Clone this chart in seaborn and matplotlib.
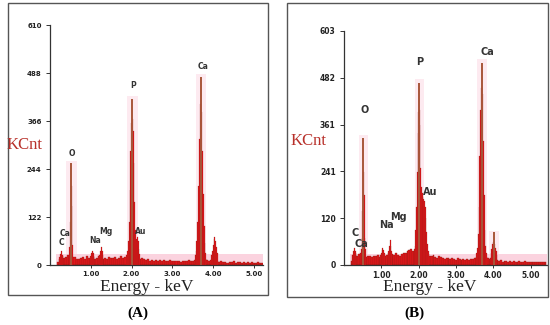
import numpy as np
import matplotlib.pyplot as plt
import seaborn as sns
from matplotlib.patches import Rectangle

# ---- panel A data -------------------------------------------------------
bg_energy_a = np.linspace(0.20, 5.20, 101)
bg_counts_a = [8, 15, 22, 18, 20, 25, 22, 18, 20, 16, 14,
               18, 20, 15, 22, 18, 16, 20, 14, 18, 22, 17, 15, 19, 16, 20, 18,
               17, 21, 15, 19, 22, 18, 20, 16, 24, 20, 22, 18, 20, 16, 18, 14,
               12, 14, 10, 13, 11, 12, 9, 13, 10, 12, 11, 9, 12, 10, 11, 9,
               10, 8, 11, 9, 10, 12, 9, 11, 13, 15, 18, 20, 16, 14, 12, 10,
               12, 14, 10, 9, 8, 9, 7, 8, 6, 8, 7, 9, 6, 7, 8, 6,
               7, 5, 8, 6, 7, 5, 6, 7, 5, 6]
peak_energy_a = [0.24, 0.26, 0.28, 0.30, 0.32,
                 0.48, 0.50, 0.52, 0.54, 0.56,
                 1.00, 1.02, 1.04, 1.06, 1.08,
                 1.22, 1.24, 1.26, 1.28, 1.30,
                 1.88, 1.90, 1.92, 1.94, 1.96, 1.98, 2.00, 2.02, 2.04, 2.06,
                 2.08, 2.10, 2.12, 2.14, 2.16, 2.18, 2.20,
                 3.56, 3.58, 3.60, 3.62, 3.64, 3.66, 3.68, 3.70, 3.72, 3.74,
                 3.76, 3.78, 3.80, 3.82,
                 3.96, 3.98, 4.00, 4.02, 4.04, 4.06, 4.08, 4.10]
peak_counts_a = [20, 28, 35, 25, 18,
                 45, 110, 200, 150, 50,
                 22, 30, 36, 30, 22,
                 25, 35, 45, 35, 25,
                 25, 35, 60, 110, 190, 290, 360, 370, 340, 260,
                 160, 90, 65, 71, 60, 40, 28,
                 25, 35, 60, 110, 200, 320, 410, 420, 390, 290,
                 180, 100, 55, 30,
                 25, 35, 50, 65, 70, 62, 45, 30]
apex_energy_a = [0.52, 2.02, 3.70]
apex_counts_a = [259, 422, 477]
labels_a = ["O", "P", "Ca", "Ca", "C", "Na", "Mg", "Au"]
label_e_a = [0.54, 2.03, 3.76, 0.37, 0.29, 1.10, 1.37, 2.22]
label_c_a = [284, 457, 505, 79, 56, 63, 86, 86]
yticks_a = [0, 122, 244, 366, 488, 610]

# ---- panel B data -------------------------------------------------------
bg_energy_b = np.linspace(0.20, 5.40, 105)
bg_counts_b = [10, 25, 30, 22, 28, 30, 25, 22, 20, 24, 22,
               20, 24, 22, 26, 20, 25, 28, 22, 26, 30, 24, 28, 25, 30, 27, 24,
               28, 32, 30, 35, 38, 40, 36, 42, 45, 40, 44, 40, 38, 32, 28, 24,
               22, 25, 20, 18, 22, 20, 18, 16, 19, 17, 15, 18, 16, 14, 17, 15,
               14, 16, 13, 15, 14, 16, 15, 18, 20, 25, 30, 28, 24, 20, 18, 15,
               18, 20, 15, 12, 10, 12, 9, 10, 11, 9, 10, 8, 10, 9, 8, 10,
               9, 8, 10, 8, 9, 7, 8, 9, 7, 8, 9, 8, 7, 8]
peak_energy_b = [0.24, 0.26, 0.28, 0.30, 0.32,
                 0.46, 0.48, 0.50, 0.52, 0.54, 0.56, 0.58,
                 1.00, 1.02, 1.04, 1.06, 1.08,
                 1.20, 1.22, 1.24, 1.26, 1.28,
                 1.88, 1.90, 1.92, 1.94, 1.96, 1.98, 2.00, 2.02, 2.04, 2.06,
                 2.08, 2.10, 2.12, 2.14, 2.16, 2.18, 2.20, 2.22, 2.24, 2.26,
                 3.56, 3.58, 3.60, 3.62, 3.64, 3.66, 3.68, 3.70, 3.72, 3.74,
                 3.76, 3.78, 3.80, 3.82,
                 3.94, 3.96, 3.98, 4.00, 4.02, 4.04, 4.06, 4.08, 4.10]
peak_counts_b = [25, 35, 44, 35, 25,
                 40, 70, 140, 240, 180, 70, 40,
                 30, 38, 45, 38, 30,
                 35, 48, 65, 50, 35,
                 35, 50, 90, 150, 240, 340, 395, 400, 360, 250,
                 200, 185, 175, 170, 165, 150, 120, 85, 55, 35,
                 30, 45, 80, 150, 280, 400, 455, 460, 440, 320,
                 180, 90, 50, 30,
                 30, 40, 55, 60, 62, 55, 45, 35, 25]
apex_energy_b = [0.52, 2.02, 3.70, 4.02]
apex_counts_b = [328, 470, 521, 85]
labels_b = ["O", "P", "Ca", "C", "Ca", "Na", "Mg", "Au"]
label_e_b = [0.56, 2.04, 3.83, 0.29, 0.46, 1.15, 1.47, 2.31]
label_c_b = [400, 524, 550, 83, 54, 103, 124, 188]
yticks_b = [0, 120, 241, 361, 482, 603]

xticks = [1.0, 2.0, 3.0, 4.0, 5.0]

RED = "#e5141b"
DARK = "#8a2012"
APEX = "#a8563a"
PINK = "#fdeaf0"
LABEL_RED = "#b8302a"

sns.set_style("white")
plt.rcParams["font.family"] = ["DejaVu Sans"]

fig = plt.figure(figsize=(5.5, 3.25), dpi=100)


def draw_panel(ax, bg_e, bg_c, pk_e, pk_c, ap_e, ap_c, labs, lab_e, lab_c,
               yt, xmax, lab_size, tick_size):
    # pink halo behind the peaks and along the baseline
    ax.bar(ap_e, [c * 1.02 for c in ap_c], width=0.26, color=PINK,
           linewidth=0, zorder=0)
    ax.fill_between([0.15, xmax], 0, 28, color="#fbd3df", linewidth=0,
                    zorder=0)

    sns.histplot(x=bg_e, weights=bg_c, binwidth=0.05,
                 binrange=(0.175, bg_e[-1] + 0.025), color=RED, alpha=1,
                 edgecolor=DARK, linewidth=0.25, ax=ax, zorder=2)
    sns.histplot(x=pk_e, weights=pk_c, binwidth=0.02,
                 binrange=(0.19, 5.25), color=RED, alpha=1,
                 edgecolor=DARK, linewidth=0.15, ax=ax, zorder=3)
    ax.vlines(ap_e, 0, ap_c, color=APEX, linewidth=1.4, zorder=4)

    for t, e, c in zip(labs, lab_e, lab_c):
        ax.text(e, c, t, ha="center", va="center", fontsize=lab_size,
                fontweight="bold", color="#333333", zorder=5)

    ax.set_xlim(0, xmax)
    ax.set_ylim(0, yt[-1])
    ax.set_yticks(yt)
    ax.set_yticklabels([str(v) for v in yt])
    ax.set_xticks(xticks)
    ax.set_xticklabels([f"{v:.2f}" for v in xticks])
    ax.set_xlabel("")
    ax.set_ylabel("")
    for s in ["top", "right"]:
        ax.spines[s].set_visible(False)
    for s in ["left", "bottom"]:
        ax.spines[s].set_color("#333333")
        ax.spines[s].set_linewidth(0.9)
    ax.tick_params(axis="both", which="major", labelsize=tick_size,
                   colors="#333333", length=3, width=0.7, pad=3, left=True,
                   bottom=True)
    ax.tick_params(axis="x", length=2, pad=2.5)
    for lab in ax.get_xticklabels() + ax.get_yticklabels():
        lab.set_fontweight("bold")
        lab.set_color("#222222")


ax_a = fig.add_axes([50 / 550, 1 - 265 / 325, 213 / 550, 240 / 325])
draw_panel(ax_a, bg_energy_a, bg_counts_a, peak_energy_a, peak_counts_a,
           apex_energy_a, apex_counts_a, labels_a, label_e_a, label_c_a,
           yticks_a, 5.22, 5.5, 5)

ax_b = fig.add_axes([344 / 550, 1 - 265 / 325, 203 / 550, 234 / 325])
draw_panel(ax_b, bg_energy_b, bg_counts_b, peak_energy_b, peak_counts_b,
           apex_energy_b, apex_counts_b, labels_b, label_e_b, label_c_b,
           yticks_b, 5.44, 7, 5.5)

# panel frames
fig.patches.append(Rectangle((8 / 550, 1 - 295 / 325), 260 / 550, 292 / 325,
                             transform=fig.transFigure, fill=False,
                             edgecolor="#555555", linewidth=1.0))
fig.patches.append(Rectangle((287 / 550, 1 - 297 / 325), 261 / 550,
                             294 / 325, transform=fig.transFigure,
                             fill=False, edgecolor="#555555", linewidth=1.0))

serif = ["Liberation Serif", "DejaVu Serif"]
fig.text(7 / 550, 1 - 145 / 325, "KCnt", family=serif, fontsize=12,
         color=LABEL_RED, ha="left", va="center")
fig.text(291 / 550, 1 - 141 / 325, "KCnt", family=serif, fontsize=12,
         color=LABEL_RED, ha="left", va="center")
fig.text(147 / 550, 1 - 287 / 325, "Energy - keV", family=serif,
         fontsize=12.5, color="#222222", ha="center", va="center")
fig.text(430 / 550, 1 - 287 / 325, "Energy - keV", family=serif,
         fontsize=12.5, color="#222222", ha="center", va="center")
fig.text(138 / 550, 1 - 313 / 325, "(A)", family=serif, fontsize=11,
         fontweight="bold", color="black", ha="center", va="center")
fig.text(414 / 550, 1 - 313 / 325, "(B)", family=serif, fontsize=11,
         fontweight="bold", color="black", ha="center", va="center")

fig.savefig("out.png", dpi=100)
